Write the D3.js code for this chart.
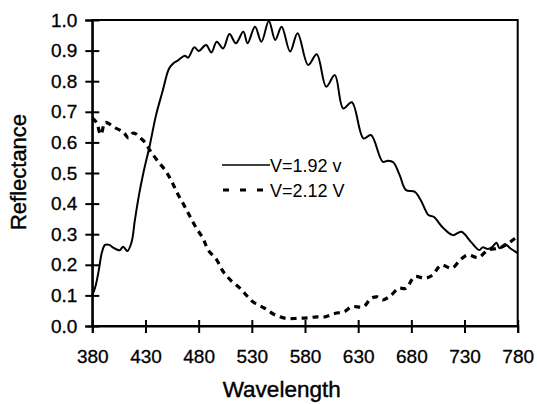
<!DOCTYPE html>
<html><head><meta charset="utf-8">
<script src="https://cdn.jsdelivr.net/npm/d3@7"></script>
<style>body{margin:0;background:#fff}svg{display:block}text{font-family:"Liberation Sans",Arial,sans-serif;fill:#000}</style>
</head><body><div id="chart"></div>
<script>
const xTicks = [380,430,480,530,580,630,680,730,780];
const yTicks = [0,0.1,0.2,0.3,0.4,0.5,0.6,0.7,0.8,0.9,1.0];
const seriesNames = ["V=1.92 v","V=2.12 V"];
const solidWl = [380,383,386,389,392,396,400,403,406,409,413,417,420,424,428,434,440,446,452,456,461,467,470,476,480,487,492,497,503,509,515,522,526,533,539,546,552,558,566,573,583,591,600,608,616,624,635,642,653,658,663,669,675,683,689,696,701,710,719,727,736,744,747,752,756,760,763,768,773,780];
const solidVal = [0.10,0.13,0.18,0.24,0.265,0.265,0.255,0.25,0.248,0.259,0.245,0.275,0.345,0.43,0.50,0.59,0.69,0.766,0.84,0.858,0.869,0.883,0.877,0.911,0.899,0.918,0.894,0.929,0.907,0.954,0.924,0.962,0.924,0.978,0.929,0.997,0.935,0.978,0.897,0.957,0.853,0.888,0.782,0.820,0.711,0.731,0.613,0.624,0.537,0.54,0.535,0.493,0.444,0.439,0.41,0.363,0.357,0.32,0.297,0.308,0.275,0.248,0.257,0.252,0.258,0.272,0.254,0.268,0.254,0.238];
const dashWl = [380,384,388,392,396,400,406,410,414,418,421,425,429,435,442,449,455,460,467,472,478,484,489,497,503,510,519,525,531,542,552,562,573,583,591,599,608,617,624,635,642,648,653,661,668,675,683,693,700,708,718,726,733,743,752,762,769,777,780];
const dashVal = [0.68,0.665,0.625,0.665,0.66,0.65,0.64,0.63,0.615,0.63,0.628,0.615,0.602,0.57,0.537,0.507,0.47,0.434,0.39,0.357,0.319,0.287,0.248,0.216,0.178,0.15,0.123,0.10,0.079,0.058,0.036,0.025,0.025,0.027,0.03,0.03,0.041,0.047,0.063,0.063,0.09,0.095,0.085,0.101,0.123,0.123,0.161,0.156,0.167,0.199,0.189,0.216,0.232,0.224,0.248,0.254,0.265,0.285,0.292];

const W = 537, H = 404;
const svg = d3.select("#chart").append("svg").attr("width", W).attr("height", H);
const x = d3.scaleLinear().domain([380,780]).range([92.3,517.7]);
const y = d3.scaleLinear().domain([0,1]).range([326,20]);

// frame
svg.append("rect").attr("x", x(380)).attr("y", y(1)).attr("width", x(780)-x(380)).attr("height", y(0)-y(1))
  .attr("fill","none").attr("stroke","#000").attr("stroke-width",2);

const line = d3.line().x(d=>x(d[0])).y(d=>y(d[1])).curve(d3.curveCatmullRom.alpha(0.5));
const solid = solidWl.map((w,i)=>[w, solidVal[i]]);
const dashed = dashWl.map((w,i)=>[w, dashVal[i]]);
svg.append("path").datum(solid).attr("d", line).attr("fill","none").attr("stroke","#000").attr("stroke-width",2);
svg.append("path").datum(dashed).attr("d", line).attr("fill","none").attr("stroke","#000").attr("stroke-width",3.2).attr("stroke-dasharray","6,5");

// axes
const yAxis = svg.append("g").attr("transform",`translate(${x(380)},0)`)
  .call(d3.axisLeft(y).tickValues(yTicks).tickFormat(d3.format(".1f")).tickSize(7).tickPadding(8));
yAxis.selectAll(".tick line").attr("x1",7).attr("x2",-7).attr("stroke-width",2);
yAxis.select(".domain").attr("stroke-width",2);
yAxis.selectAll("text").style("font-size","19px").attr("stroke","#000").attr("stroke-width",0.3);

const xAxis = svg.append("g").attr("transform",`translate(0,${y(0)})`)
  .call(d3.axisBottom(x).tickValues(xTicks).tickFormat(d3.format("d")).tickSize(7).tickPadding(17));
xAxis.selectAll(".tick line").attr("y1",-6).attr("y2",7).attr("stroke-width",2);
xAxis.select(".domain").attr("stroke-width",2);
xAxis.selectAll("text").style("font-size","19px").attr("stroke","#000").attr("stroke-width",0.3);

// axis titles
svg.append("text").attr("transform","translate(26,172) rotate(-90)").attr("text-anchor","middle")
  .style("font-size","22px").attr("stroke","#000").attr("stroke-width",0.4).text("Reflectance");
svg.append("text").attr("x",281.7).attr("y",397).attr("text-anchor","middle")
  .style("font-size","22.5px").attr("stroke","#000").attr("stroke-width",0.4).text("Wavelength");

// legend
svg.append("line").attr("x1",222).attr("x2",270).attr("y1",165).attr("y2",165).attr("stroke","#000").attr("stroke-width",1.5);
svg.append("text").attr("x",270).attr("y",171.5).style("font-size","18px").text(seriesNames[0]);
svg.append("line").attr("x1",223).attr("x2",264).attr("y1",190).attr("y2",190).attr("stroke","#000").attr("stroke-width",3).attr("stroke-dasharray","6,11");
svg.append("text").attr("x",270).attr("y",196.7).style("font-size","18px").text(seriesNames[1]);
</script></body></html>
